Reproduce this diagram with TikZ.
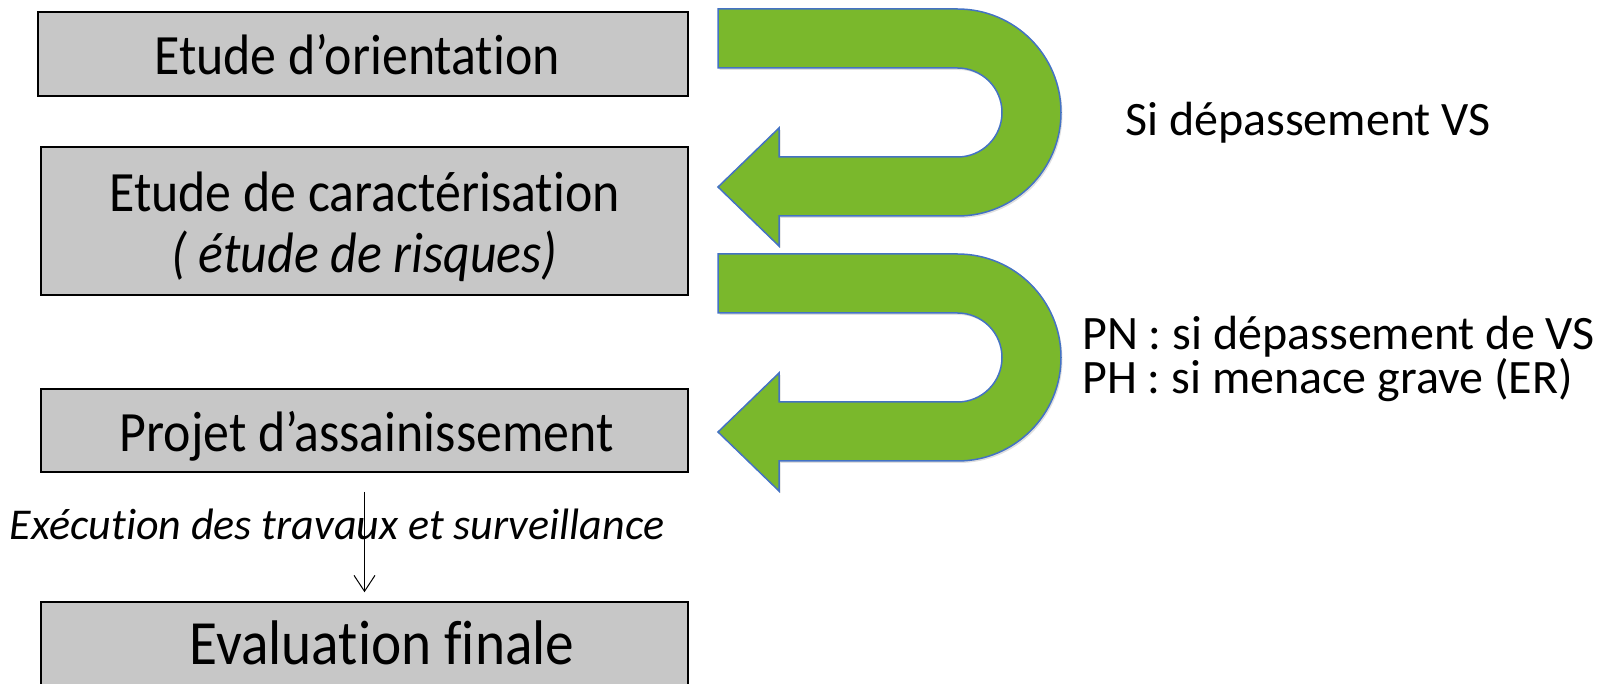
\documentclass[tikz,border=0pt]{standalone}
\usepackage{fontspec}
\setmainfont{Carlito}[Ligatures=NoCommon]
\newfontfamily\boxfont{Carlito}[FakeStretch=0.91, Ligatures=NoCommon]
\usetikzlibrary{arrows.meta,shadows}
\definecolor{boxgray}{RGB}{199,199,199}
\definecolor{uturngreen}{RGB}{122,184,44}
\definecolor{uturnblue}{RGB}{68,114,196}
\tikzset{
    stage/.style={draw=black, line width=1.5pt, fill=boxgray, minimum width=647pt, minimum height=83pt, align=center, inner sep=0pt, font=\boxfont\fontsize{57}{61}\selectfont},
    oneline/.style={text height=42pt, text depth=0pt},
    uturn/.style={fill=uturngreen, draw=uturnblue, line width=1.5pt, drop shadow={opacity=0.25, shadow xshift=1.5pt, shadow yshift=-2pt}},
    remark/.style={inner sep=0pt, align=left, font=\fontsize{48}{42}\selectfont}
}

\begin{document}
\begin{tikzpicture}[x=1pt, y=-1pt]
            \useasboundingbox (0,0) rectangle (1599,684);
            \node[stage, oneline, minimum width=650pt, minimum height=84pt] (orient) at (363,54) { Etude d’orientation };
            \node[stage, minimum height=148pt] (caract) at (364.5,221) { \rule{0pt}{52pt}Etude de caractérisation\\ \textit{( étude de risques)} };
            \node[stage, oneline] (projet) at (364.5,430.5) { \hspace*{16pt}Projet d’assainissement };
            \node[stage, oneline, font=\boxfont\fontsize{63}{66}\selectfont] (evalfin) at (364.5,643.5) { \hspace*{48pt}Evaluation finale };
            \node[anchor=base, inner sep=0pt, font=\fontsize{44}{48}\selectfont\itshape] (travaux) at (337,539) { Exécution des travaux et surveillance };
            \draw[-{Straight Barb[length=16pt, width=21pt]}, line width=1pt, shorten <=19pt, shorten >=9pt] (projet) -- (evalfin);

            \draw[uturn] (718,9) -- (957.5,9) arc[start angle=-90, end angle=90, radius=103.5] -- (779,216) -- (779,246) -- (718,187) -- (779,128) -- (779,157) -- (957.5,157) arc[start angle=90, end angle=-90, radius=44.5] -- (718,68) -- cycle;
            \draw[uturn] (718,254) -- (957.5,254) arc[start angle=-90, end angle=90, radius=103.5] -- (779,461) -- (779,491) -- (718,432) -- (779,373) -- (779,402) -- (957.5,402) arc[start angle=90, end angle=-90, radius=44.5] -- (718,313) -- cycle;

            \node[remark, anchor=base west] (sivs) at (1125,136) { Si dépassement VS };
            \node[remark, anchor=west] (pnph) at (1082,359) { PN : si dépassement de VS\\ PH : si menace grave (ER) };
        \end{tikzpicture}
\end{document}
